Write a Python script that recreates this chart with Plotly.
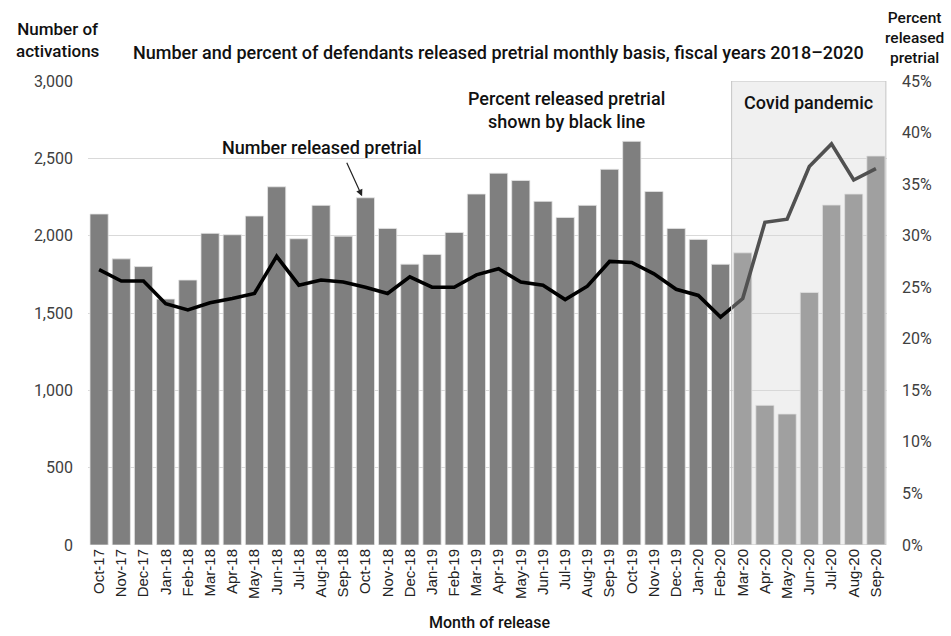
import plotly.graph_objects as go

months = ["Oct-17", "Nov-17", "Dec-17", "Jan-18", "Feb-18", "Mar-18", "Apr-18", "May-18",
          "Jun-18", "Jul-18", "Aug-18", "Sep-18", "Oct-18", "Nov-18", "Dec-18", "Jan-19",
          "Feb-19", "Mar-19", "Apr-19", "May-19", "Jun-19", "Jul-19", "Aug-19", "Sep-19",
          "Oct-19", "Nov-19", "Dec-19", "Jan-20", "Feb-20", "Mar-20", "Apr-20", "May-20",
          "Jun-20", "Jul-20", "Aug-20", "Sep-20"]

number_released = [2140, 1850, 1800, 1590, 1713, 2015, 2006, 2127,
                   2316, 1980, 2196, 1997, 2245, 2047, 1816, 1879,
                   2021, 2269, 2404, 2357, 2222, 2118, 2196, 2429,
                   2610, 2286, 2047, 1976, 1815, 1889, 903, 847,
                   1633, 2198, 2269, 2515]

percent_released = [26.7, 25.6, 25.6, 23.4, 22.8, 23.5, 23.9, 24.4,
                    28.0, 25.2, 25.7, 25.5, 25.0, 24.4, 26.0, 25.0,
                    25.0, 26.2, 26.8, 25.5, 25.2, 23.8, 25.1, 27.5,
                    27.4, 26.3, 24.8, 24.2, 22.1, 23.9, 31.3, 31.6,
                    36.7, 38.9, 35.4, 36.5]

left_ticks = [0, 500, 1000, 1500, 2000, 2500, 3000]
left_labels = ["0", "500", "1,000", "1,500", "2,000", "2,500", "3,000"]
right_ticks = [0, 5, 10, 15, 20, 25, 30, 35, 40, 45]
right_labels = ["0%", "5%", "10%", "15%", "20%", "25%", "30%", "35%", "40%", "45%"]

covid_start = "Mar-20"

TXT = "Roboto"
DARK = "#111111"
fig = go.Figure()

fig.add_trace(go.Bar(
    x=months, y=number_released, name="Number released pretrial",
    marker=dict(color="#7f7f7f", line=dict(color="#e6e6e6", width=0.8)),
    yaxis="y",
))

fig.add_trace(go.Scatter(
    x=months, y=percent_released, name="Percent released pretrial",
    mode="lines", line=dict(color="#000000", width=3.6),
    yaxis="y2",
))

# translucent panel marking the pandemic months
i0 = months.index(covid_start)
box_x0, box_x1 = i0 - 0.5, len(months) - 0.55
fig.add_shape(type="rect", xref="x", yref="y",
              x0=box_x0, x1=box_x1, y0=0, y1=3000,
              fillcolor="rgba(215,215,215,0.375)",
              line=dict(color="#c4c4c4", width=1), layer="above")

fig.update_layout(
    width=951, height=636,
    margin=dict(l=88, r=64, t=81, b=91),
    paper_bgcolor="white", plot_bgcolor="white",
    showlegend=False, bargap=0.18,
    font=dict(family=TXT, color="#333333"),
    xaxis=dict(tickangle=-90, tickfont=dict(family="Arial", size=15, color="#222222"),
               showgrid=False, showline=False, ticks="", range=[-0.5, len(months) - 0.5]),
    yaxis=dict(range=[0, 3000], tickmode="array", tickvals=left_ticks, ticktext=left_labels,
               showgrid=True, gridcolor="#d9d9d9", gridwidth=1, zeroline=False,
               tickfont=dict(family=TXT, size=16, color="#404040"), ticklabelstandoff=14),
    yaxis2=dict(range=[0, 45], tickmode="array", tickvals=right_ticks, ticktext=right_labels,
                overlaying="y", side="right", showgrid=False, zeroline=False,
                tickfont=dict(family=TXT, size=16, color="#404040"), ticklabelstandoff=14),
)

ann = []
ann.append(dict(text="Number of<br>activations", xref="paper", yref="paper",
                x=-0.0375, y=1.088, xanchor="center", yanchor="middle", showarrow=False,
                font=dict(size=17, color=DARK, family=TXT, weight=500)))
ann.append(dict(text="Number and percent of defendants released pretrial monthly basis, fiscal years 2018\u20132020",
                xref="paper", yref="paper", x=0.514, y=1.0625, xanchor="center", yanchor="middle",
                showarrow=False, font=dict(size=18, color=DARK, family=TXT, weight=500)))
ann.append(dict(text="Percent<br>released<br>pretrial", xref="paper", yref="paper",
                x=1.034, y=1.092, xanchor="center", yanchor="middle", showarrow=False,
                font=dict(size=15.5, color=DARK, family=TXT, weight=500)))
ann.append(dict(text="Percent released pretrial<br>shown by black line", xref="x", yref="y",
                x=21.04, y=2812, xanchor="center", yanchor="middle", showarrow=False,
                font=dict(size=18, color=DARK, family=TXT, weight=500)))
ann.append(dict(text="Number released pretrial", xref="x", yref="y",
                x=10.05, y=2573, xanchor="center", yanchor="middle", showarrow=False,
                font=dict(size=18, color=DARK, family=TXT, weight=500)))
ann.append(dict(text="", xref="x", yref="y", x=11.85, y=number_released[12] + 10,
                ax=-16, ay=-35, showarrow=True, arrowhead=2, arrowsize=1.1,
                arrowwidth=1.2, arrowcolor="#222222"))
ann.append(dict(text="Covid pandemic", xref="x", yref="y",
                x=(box_x0 + box_x1) / 2, y=2858, xanchor="center",
                yanchor="middle", showarrow=False,
                font=dict(size=18, color=DARK, family=TXT, weight=500)))
ann.append(dict(text="Month of release", xref="paper", yref="paper",
                x=0.503, y=-0.166, xanchor="center", yanchor="middle", showarrow=False,
                font=dict(size=16, color=DARK, family=TXT, weight=500)))
fig.update_layout(annotations=ann)

fig.write_html("out.html")
